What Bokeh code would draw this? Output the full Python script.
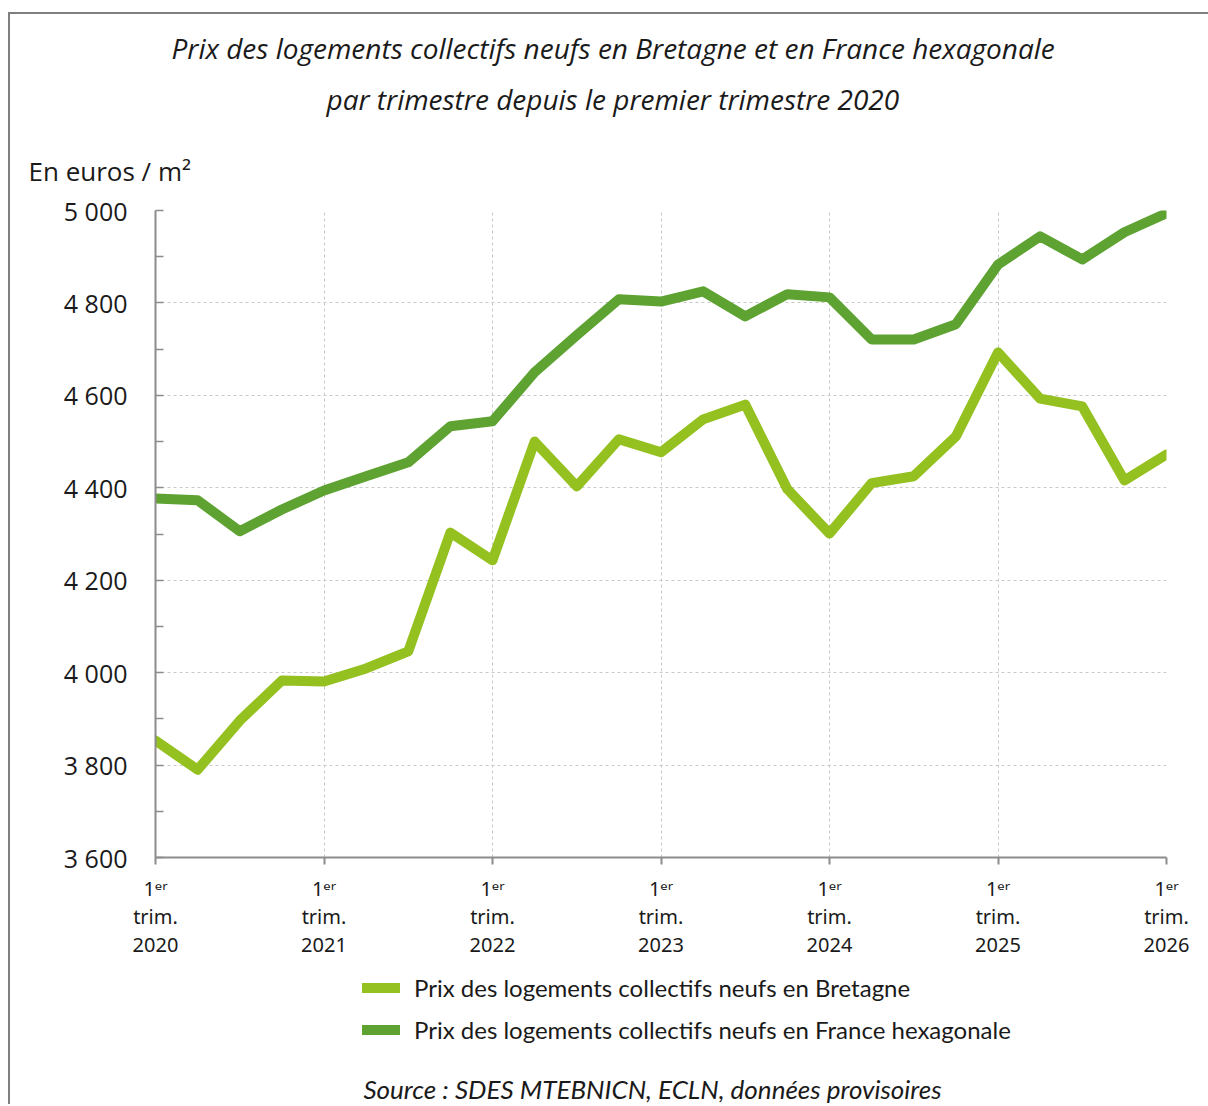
from bokeh.plotting import figure
from bokeh.layouts import column
from bokeh.models import Range1d, FixedTicker, Title, Legend, LegendItem, Label
from bokeh.embed import file_html
from bokeh.resources import INLINE

# ---------------- data ----------------
years = [2020, 2021, 2022, 2023, 2024, 2025, 2026]
quarter_index = list(range(25))  # T1 2020 ... T1 2026
bretagne = [3853, 3790, 3896, 3983, 3981, 4009, 4046, 4303, 4243, 4500, 4403, 4505, 4477,
            4548, 4580, 4397, 4301, 4410, 4425, 4511, 4693, 4593, 4576, 4416, 4472]
france = [4377, 4373, 4306, 4353, 4394, 4425, 4455, 4533, 4544, 4650, 4730, 4808, 4803,
          4825, 4771, 4819, 4812, 4721, 4721, 4754, 4883, 4944, 4894, 4953, 4994]
y_ticks = [3600, 3800, 4000, 4200, 4400, 4600, 4800, 5000]
y_minor = [3700, 3900, 4100, 4300, 4500, 4700, 4900]
x_ticks = [4 * k for k in range(len(years))]
x_tick_labels = [f"1ᵉʳ\ntrim.\n{y}" for y in years]
series_names = ["Prix des logements collectifs neufs en Bretagne",
                "Prix des logements collectifs neufs en France hexagonale"]
title_lines = ["Prix des logements collectifs neufs en Bretagne et en France hexagonale",
               "par trimestre depuis le premier trimestre 2020"]
unit_label = "En euros / m²"
source_text = "Source : SDES MTEBNICN, ECLN, données provisoires"

LIGHT = "#94c11f"
DARK = "#5ea332"
TXT = "#1a1a1a"
AX = "#8c8c8c"

W = 1198
FW, FH = 1011, 647
p = figure(frame_width=FW, frame_height=FH, x_range=Range1d(0, 24), y_range=Range1d(3600, 5000),
           output_backend="svg", toolbar_location=None,
           min_border_left=145, min_border_right=W - 145 - FW, min_border_top=196,
           min_border_bottom=105)
p.outline_line_color = None

# axes
p.xaxis.ticker = FixedTicker(ticks=x_ticks)
p.xaxis.major_label_overrides = dict(zip(x_ticks, x_tick_labels))
p.xaxis.major_label_text_font = "Noto Sans"
p.xaxis.major_label_text_font_size = "20px"
p.xaxis.major_label_text_line_height = 1.05
p.xaxis.major_label_text_color = TXT
p.xaxis.major_label_standoff = 10
p.xaxis.major_tick_out = 7
p.xaxis.major_tick_in = 0
p.xaxis.minor_tick_out = 0
p.xaxis.minor_tick_in = 0
p.xaxis.axis_line_color = AX
p.xaxis.axis_line_width = 2
p.xaxis.major_tick_line_color = AX
p.xaxis.major_tick_line_width = 2

p.yaxis.ticker = FixedTicker(ticks=y_ticks, minor_ticks=y_minor)
p.yaxis.major_label_overrides = {v: f"{v // 1000} {v % 1000:03d}" for v in y_ticks}
p.yaxis.major_tick_out = 0
p.yaxis.major_tick_in = 8
p.yaxis.minor_tick_out = 0
p.yaxis.minor_tick_in = 8
p.yaxis.axis_line_color = AX
p.yaxis.axis_line_width = 2
p.yaxis.major_tick_line_color = AX
p.yaxis.major_tick_line_width = 1.5
p.yaxis.minor_tick_line_color = AX
p.yaxis.minor_tick_line_width = 1.5
p.yaxis.major_label_standoff = 28
p.yaxis.major_label_text_font = "Open Sans"
p.yaxis.major_label_text_font_size = "25px"
p.yaxis.major_label_text_color = TXT

for g in (p.xgrid, p.ygrid):
    g.grid_line_color = "#c9c9c9"
    g.grid_line_dash = "3 3"
    g.grid_line_width = 1

# lines
line_style = dict(line_width=10, line_cap="round", line_join="round")
p.line(quarter_index, bretagne, line_color=LIGHT, **line_style)
p.line(quarter_index, france, line_color=DARK, **line_style)

# above: unit label (nearest), then title lines
p.add_layout(Title(text=unit_label, align="left", offset=-127, standoff=43,
                   text_font="Open Sans", text_font_style="normal",
                   text_font_size="26px", text_color=TXT), "above")
p.add_layout(Title(text=title_lines[1], align="left", offset=171, standoff=23,
                   text_font="Open Sans", text_font_style="italic",
                   text_font_size="28px", text_color=TXT), "above")
p.add_layout(Title(text=title_lines[0], align="left", offset=16, standoff=0,
                   text_font="Open Sans", text_font_style="italic",
                   text_font_size="28px", text_color=TXT), "above")

# ---------------- legend + source strip (frame aligned with the chart frame, pixel ranges) ----------------
LH = 142
q = figure(width=W, height=LH, x_range=Range1d(0, FW), y_range=Range1d(0, LH),
           output_backend="svg", toolbar_location=None, min_border=0)
q.axis.visible = False
q.grid.visible = False
q.outline_line_color = None
nan = float("nan")
lb = q.line([nan], [nan], line_color=LIGHT, **line_style)
lf = q.line([nan], [nan], line_color=DARK, **line_style)
legend = Legend(items=[LegendItem(label=series_names[0], renderers=[lb]),
                       LegendItem(label=series_names[1], renderers=[lf])],
                location=(207, 60), orientation="vertical",
                glyph_width=38, glyph_height=29, label_height=29, spacing=13,
                padding=0, margin=0, border_line_color=None, background_fill_alpha=0,
                label_text_font="Lato", label_text_font_size="24px",
                label_standoff=14, label_text_color=TXT)
q.add_layout(legend, "center")
q.add_layout(Label(x=497, y=16, text=source_text, text_align="center",
                   text_baseline="alphabetic", text_font="Lato", text_font_style="italic",
                   text_font_size="26px", text_color=TXT))

layout = column(p, q, spacing=0,
                styles={"margin-top": "12px", "margin-left": "8px",
                        "border-top": "2px solid #7f7f7f", "border-left": "2px solid #7f7f7f"})

open("out.html", "w").write(file_html(layout, INLINE))
